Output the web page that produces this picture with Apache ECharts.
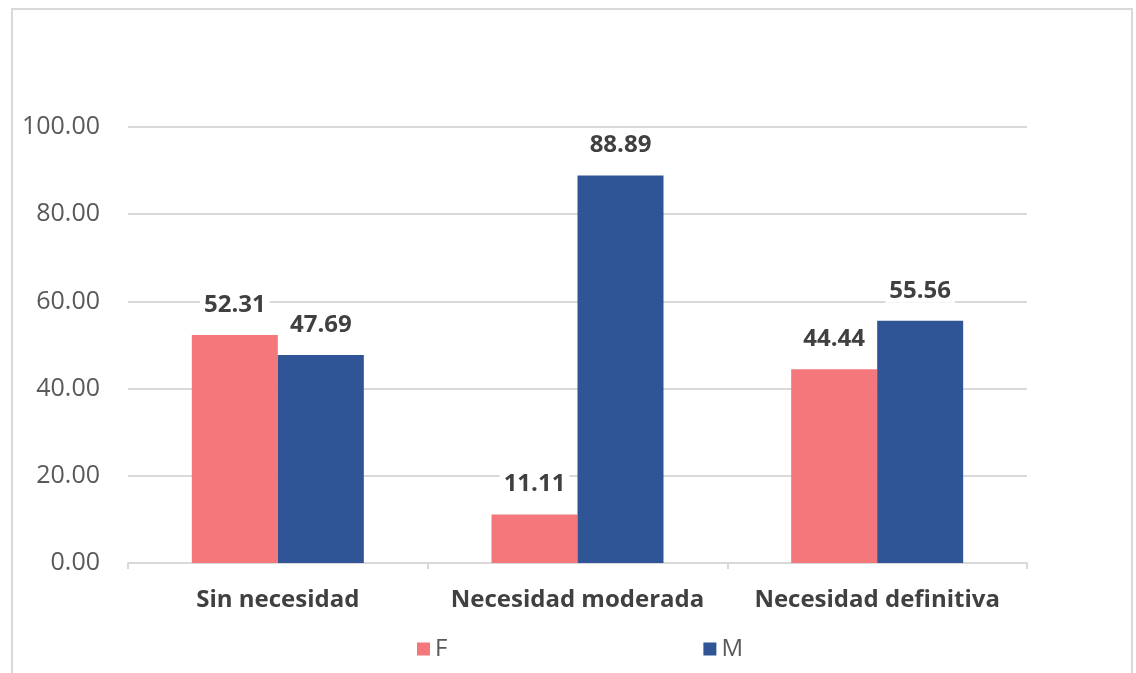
<!DOCTYPE html>
<html>
<head>
<meta charset="utf-8">
<script src="https://cdn.jsdelivr.net/npm/echarts@6/dist/echarts.min.js"></script>
<style>
html,body{margin:0;padding:0;background:#fff;}
#chart{width:1136px;height:673px;}
</style>
</head>
<body>
<div id="chart"></div>
<script>
const categories = ['Sin necesidad', 'Necesidad moderada', 'Necesidad definitiva'];
const seriesNames = ['F', 'M'];
const valuesF = [52.31, 11.11, 44.44];
const valuesM = [47.69, 88.89, 55.56];
const yTicks = { min: 0, max: 100, interval: 20 };

const chart = echarts.init(document.getElementById('chart'));
const font = "'Open Sans', 'Noto Sans', sans-serif";
const labelStyle = {
  show: true,
  position: 'top',
  distance: 18,
  formatter: p => p.value.toFixed(2),
  fontFamily: font,
  fontSize: 24,
  fontWeight: 'bold',
  color: '#404040',
  backgroundColor: '#ffffff',
  padding: [0, 4]
};
chart.setOption({
  backgroundColor: '#ffffff',
  animation: false,
  graphic: [{
    type: 'rect',
    shape: { x: 12, y: 9, width: 1120, height: 700 },
    style: { fill: 'none', stroke: '#d9d9d9', lineWidth: 2 },
    silent: true
  }],
  grid: { left: 128, right: 109, top: 127, bottom: 110 },
  legend: {
    data: seriesNames,
    top: 632,
    left: 412,
    itemWidth: 13,
    itemHeight: 13,
    itemGap: 256,
    icon: 'rect',
    textStyle: { fontFamily: font, fontSize: 24, color: '#595959' }
  },
  xAxis: {
    type: 'category',
    data: categories,
    axisLine: { lineStyle: { color: '#d9d9d9', width: 2 } },
    axisTick: { show: true, length: 6, lineStyle: { color: '#d9d9d9', width: 2 } },
    axisLabel: { interval: 0, hideOverlap: false, margin: 25, fontFamily: font, fontSize: 24, fontWeight: 'bold', color: '#404040' }
  },
  yAxis: {
    type: 'value',
    min: yTicks.min,
    max: yTicks.max,
    interval: yTicks.interval,
    axisLine: { show: false },
    axisTick: { show: false },
    splitLine: { lineStyle: { color: '#d9d9d9', width: 2 } },
    axisLabel: { margin: 28, formatter: v => v.toFixed(2), fontFamily: font, fontSize: 25, color: '#595959' }
  },
  series: [
    { name: 'F', type: 'bar', data: valuesF, barWidth: 86, barGap: '0%', itemStyle: { color: '#f4777c' }, label: labelStyle },
    { name: 'M', type: 'bar', data: valuesM, barWidth: 86, barGap: '0%', itemStyle: { color: '#2f5597' }, label: labelStyle }
  ]
});
</script>
</body>
</html>
